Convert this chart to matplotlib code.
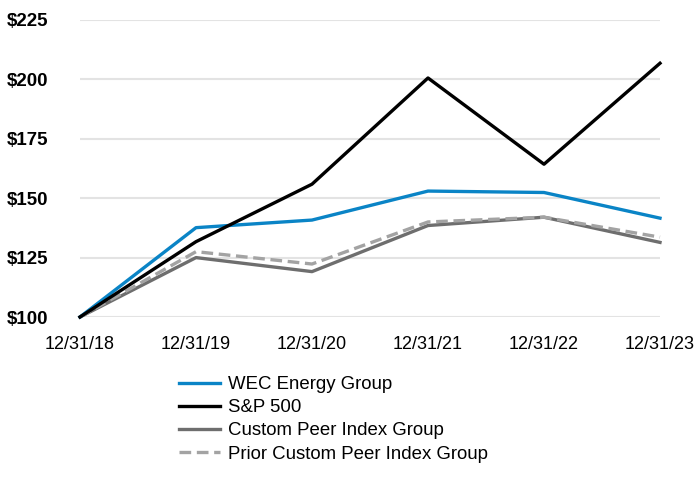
import matplotlib
matplotlib.use('Agg')
import matplotlib.pyplot as plt

plt.rcParams['font.family'] = ['Liberation Sans', 'DejaVu Sans']

# dates on the x axis
dates = ['12/31/18', '12/31/19', '12/31/20', '12/31/21', '12/31/22', '12/31/23']

# cumulative return of $100 invested
wec = [100, 137.6, 140.8, 153.0, 152.4, 141.6]
sp500 = [100, 131.7, 155.9, 200.6, 164.3, 206.8]
custom_peer = [100, 125.0, 119.1, 138.5, 142.0, 131.4]
prior_peer = [100, 127.5, 122.3, 140.0, 142.0, 133.6]

y_ticks = [100, 125, 150, 175, 200, 225]

fig = plt.figure(figsize=(7, 4.8), dpi=100)
ax = fig.add_axes([80 / 700, 1 - 317 / 480, 580 / 700, 297 / 480])

x = range(len(dates))
ax.plot(x, wec, color='#0a84c6', lw=2.4, label='WEC Energy Group', clip_on=False, zorder=3)
ax.plot(x, sp500, color='black', lw=2.4, label='S&P 500', clip_on=False, zorder=4)
ax.plot(x, custom_peer, color='#6e6e6e', lw=2.4, label='Custom Peer Index Group', clip_on=False, zorder=2)
ax.plot(x, prior_peer, color='#a3a3a3', lw=2.4, ls=(0, (3.5, 1.7)), label='Prior Custom Peer Index Group',
        clip_on=False, zorder=2.5)

ax.set_xlim(0, len(dates) - 1)
ax.set_ylim(100, 225)
ax.set_xticks(list(x))
ax.set_xticklabels(dates, fontsize=13)
ax.set_yticks(y_ticks)
ax.set_yticklabels(['${}'.format(v) for v in y_ticks], fontsize=13.5, fontweight='bold')
ax.tick_params(length=0)
ax.tick_params(axis='x', pad=14)
ax.tick_params(axis='y', pad=23)

ax.grid(axis='y', color='#e3e3e3', lw=1.5)
ax.set_axisbelow(True)
for s in ax.spines.values():
    s.set_visible(False)

leg = ax.legend(loc='upper left', bbox_to_anchor=(179 / 700, 1 - 376 / 480), bbox_transform=fig.transFigure,
                frameon=False, fontsize=13.4, handlelength=2.2, handletextpad=0.45, labelspacing=0.33,
                borderaxespad=0, borderpad=0)

fig.savefig('out.png', dpi=100)
